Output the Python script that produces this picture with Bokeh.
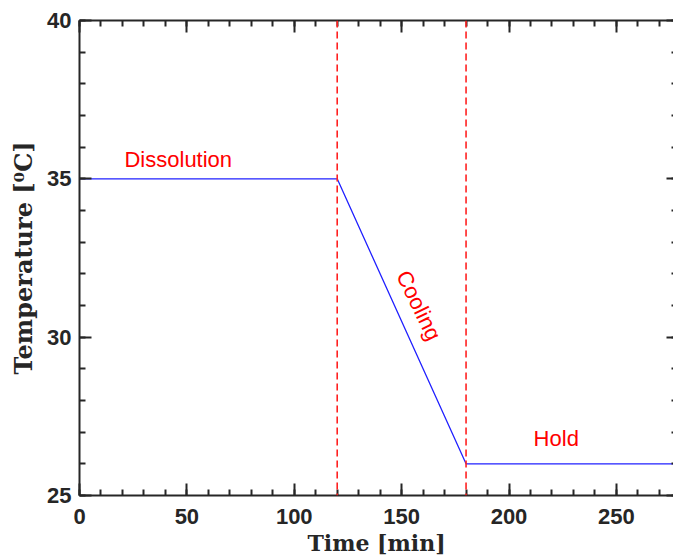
from bokeh.plotting import figure
from bokeh.models import LinearAxis, FixedTicker, Span, Range1d
from bokeh.core.properties import value
from bokeh.embed import file_html
from bokeh.resources import INLINE

# data
time_min = [0, 120, 180, 280]
temperature_c = [35, 35, 26, 26]
phase_boundaries = [120, 180]
phase_labels = ["Dissolution", "Cooling", "Hold"]
phase_label_x = [46, 158, 222]
phase_label_y = [35.6, 31.0, 26.8]
phase_label_angle = [0, -64, 0]

x_major = [0, 50, 100, 150, 200, 250]
x_minor = list(range(0, 281, 10))
y_major = [25, 30, 35, 40]
y_minor = list(range(25, 41, 1))

AX = "#262626"

p = figure(width=673, height=558, output_backend="svg", toolbar_location=None,
           x_range=Range1d(0, 276.6), y_range=Range1d(25, 40),
           min_border_left=79, min_border_top=20, min_border_right=0, min_border_bottom=20,
           x_axis_location="below", y_axis_location="left")
p.outline_line_color = None
p.xgrid.visible = False
p.ygrid.visible = False
p.background_fill_color = "white"

xt = FixedTicker(ticks=x_major, minor_ticks=x_minor)
yt = FixedTicker(ticks=y_major, minor_ticks=y_minor)

def style(ax, ticker, labels=True):
    ax.ticker = ticker
    ax.axis_line_color = AX
    ax.axis_line_width = 2
    ax.major_tick_line_color = AX
    ax.minor_tick_line_color = AX
    ax.major_tick_line_width = 2
    ax.minor_tick_line_width = 2
    ax.major_tick_in = 12
    ax.major_tick_out = 0
    ax.minor_tick_in = 6
    ax.minor_tick_out = 0
    if labels:
        ax.major_label_text_font = "Liberation Sans"
        ax.major_label_text_font_style = "bold"
        ax.major_label_text_font_size = "22px"
        ax.major_label_text_color = AX
    else:
        ax.major_label_text_font_size = "1px"
        ax.major_label_text_color = None
        ax.major_label_standoff = 0

xa = p.xaxis[0]
style(xa, xt)
xa.major_label_standoff = 13
xa.axis_label = "Time [min]"
xa.axis_label_text_font = "DejaVu Serif"
xa.axis_label_text_font_style = "bold"
xa.axis_label_text_font_size = "22px"
xa.axis_label_text_color = AX
xa.axis_label_standoff = 3

ya = p.yaxis[0]
style(ya, yt)
ya.major_label_standoff = 8
ya.axis_label = "Temperature [⁰C]"
ya.axis_label_text_font = "DejaVu Serif"
ya.axis_label_text_font_style = "bold"
ya.axis_label_text_font_size = "24px"
ya.axis_label_text_color = AX
ya.axis_label_standoff = 6

top = LinearAxis()
style(top, FixedTicker(ticks=x_major, minor_ticks=x_minor), labels=False)
p.add_layout(top, "above")

right = LinearAxis()
style(right, FixedTicker(ticks=y_major, minor_ticks=y_minor), labels=False)
right.axis_line_color = None
right.major_tick_in = 7
right.minor_tick_in = 2
p.add_layout(right, "right")

for b in phase_boundaries:
    p.add_layout(Span(location=b, dimension="height", line_color="#ff2020",
                      line_width=1.6, line_dash="7 4"))

p.line(time_min, temperature_c, line_color="#2020ff", line_width=1.3)

p.text(x=phase_label_x, y=phase_label_y, text=phase_labels,
       angle=phase_label_angle, angle_units="deg",
       text_font=value("Liberation Sans"), text_font_size="22px",
       text_color="#ff0000", text_align="center", text_baseline="middle")

open("out.html", "w").write(file_html(p, INLINE))
